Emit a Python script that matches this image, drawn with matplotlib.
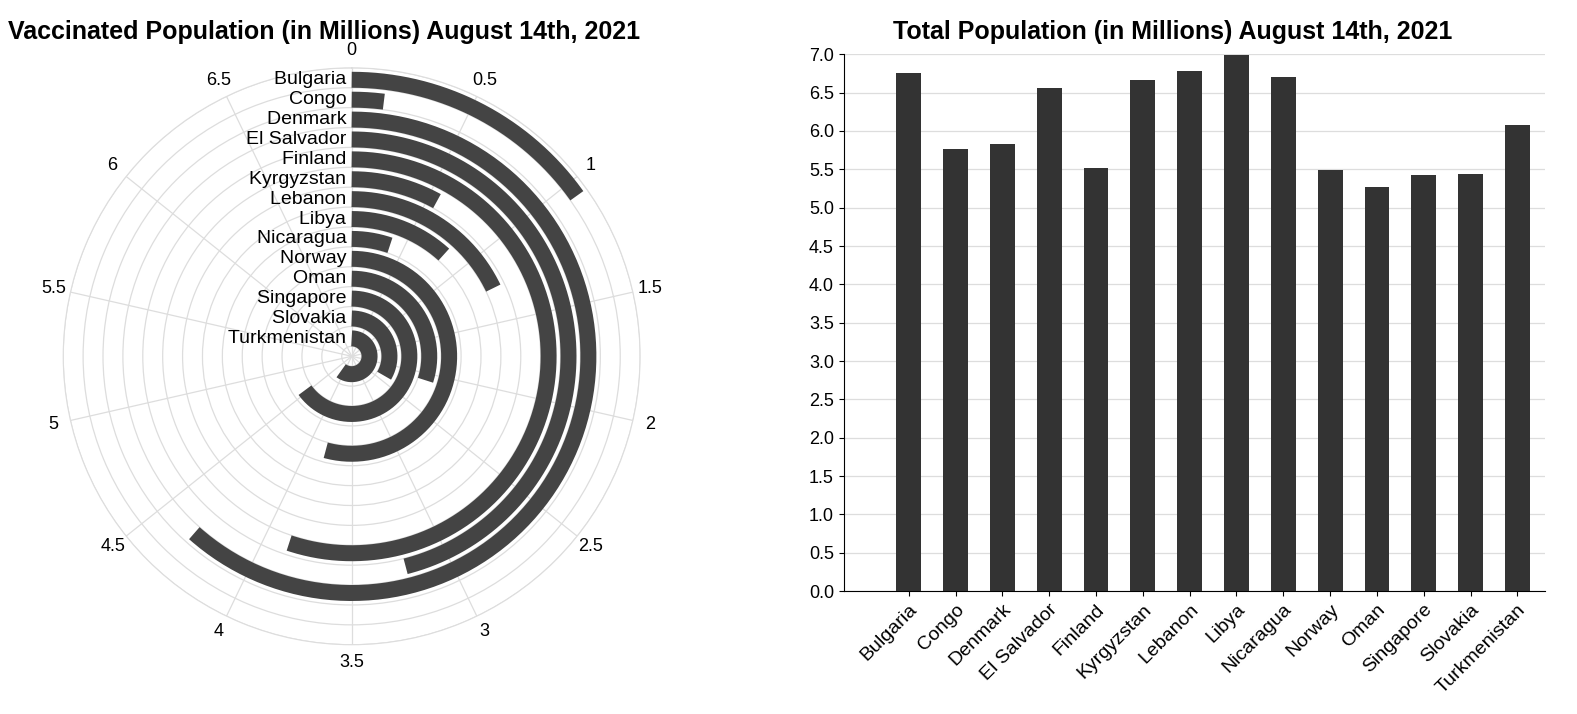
import numpy as np
import matplotlib
matplotlib.use("Agg")
import matplotlib.pyplot as plt

countries = ["Bulgaria", "Congo", "Denmark", "El Salvador", "Finland", "Kyrgyzstan",
             "Lebanon", "Libya", "Nicaragua", "Norway", "Oman", "Singapore",
             "Slovakia", "Turkmenistan"]
vaccinated = [1.06, 0.14, 4.31, 3.22, 3.86, 0.56, 1.25, 0.82, 0.37, 3.80,
              2.10, 4.55, 2.35, 4.20]
total = [6.75, 5.76, 5.83, 6.56, 5.52, 6.66, 6.78, 6.99, 6.71, 5.49,
         5.27, 5.42, 5.44, 6.08]
ang_max = 7.0

plt.rcParams['font.family'] = ['Liberation Sans', 'DejaVu Sans']
fig = plt.figure(figsize=(15.77, 7.14), dpi=100)

# radial bar chart
ax = fig.add_axes([0.040, 0.097, 0.366, 0.808], projection='polar')
ax.set_theta_zero_location('N')
ax.set_theta_direction(-1)
ax.set_ylim(0, 290)
n = len(countries)
radii = [278 - 20 * i for i in range(n)]
for c, v, r in zip(countries, vaccinated, radii):
    th = np.linspace(0, v / ang_max * 2 * np.pi, 200)
    ax.plot(th, [r] * len(th), color='#444444', lw=11.5, solid_capstyle='butt', zorder=3)
    ax.text(0, r, c + ' ', ha='right', va='center', fontsize=14, zorder=4)
ticks = np.arange(0, 7.0, 0.5)
ax.set_xticks(ticks / ang_max * 2 * np.pi)
ax.set_xticklabels(['%g' % t for t in ticks], fontsize=13)
ax.tick_params(axis='x', pad=2)
ax.set_yticks([10 + 20 * k for k in range(15)])
ax.set_yticklabels([])
ax.grid(color='#dddddd', lw=0.9)
ax.spines['polar'].set_color('#dddddd')
fig.text(0.005, 0.955, 'Vaccinated Population (in Millions) August 14th, 2021',
         fontsize=18, fontweight='bold', ha='left', va='center')

# bar chart
bx = fig.add_axes([0.535, 0.172, 0.445, 0.752])
x = np.arange(n)
bx.bar(x, total, width=0.53, color='#333333', zorder=3)
bx.set_ylim(0, 7)
bx.set_xlim(-1.39, 13.6)
bx.set_yticks(np.arange(0, 7.01, 0.5))
bx.set_yticklabels(['%.1f' % t for t in np.arange(0, 7.01, 0.5)], fontsize=13)
bx.set_xticks(x)
bx.set_xticklabels(countries, rotation=45, ha='right', rotation_mode='anchor', fontsize=14)
bx.grid(axis='y', color='#dddddd', lw=0.9, zorder=0)
for s in ['top', 'right']:
    bx.spines[s].set_visible(False)
fig.text(0.566, 0.955, 'Total Population (in Millions) August 14th, 2021',
         fontsize=18, fontweight='bold', ha='left', va='center')

fig.savefig('out.png', dpi=100)
